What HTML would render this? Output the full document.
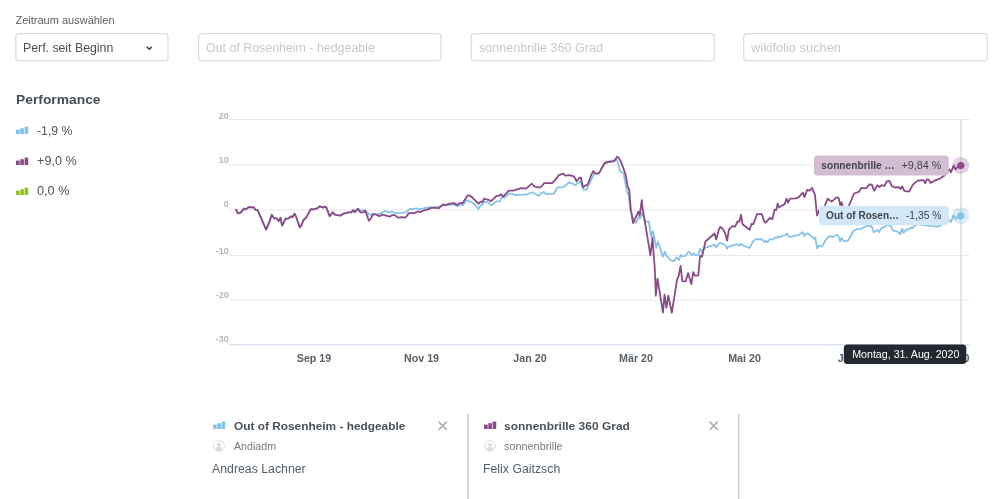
<!DOCTYPE html>
<html lang="de"><head><meta charset="utf-8"><title>wikifolio Vergleich</title>
<style>
html,body{margin:0;padding:0;background:#fff;}
body{width:999px;height:499px;position:relative;overflow:hidden;font-family:"Liberation Sans",sans-serif;color:#4d565e;}
.t{position:absolute;white-space:nowrap;line-height:1;margin:0;transform-origin:0 0;}
.ico{position:absolute;display:block;}
.ph{color:#c6c9cb;font-size:12.3px;}
svg text.yl{font:bold 9px "Liberation Sans",sans-serif;fill:#adb8bf;}
svg text.xl{font:bold 10.7px "Liberation Sans",sans-serif;fill:#596168;}
svg text.lb{font:bold 10.6px "Liberation Sans",sans-serif;fill:#3f464c;}
svg text.lv{font:11px "Liberation Sans",sans-serif;fill:#3f464c;}
svg text.tt{font:11px "Liberation Sans",sans-serif;fill:#fff;}
</style></head><body>

<div class="t" id="zeit" style="left:15.5px;top:14.8px;font-size:11px;color:#5a5f63;">Zeitraum auswählen</div>
<div class="t" id="perf" style="left:23px;top:42.4px;font-size:12.3px;color:#4a4f54;">Perf. seit Beginn</div>

<div class="t ph" id="ph1" style="left:205.9px;top:42.4px;transform:scaleX(1.008)">Out of Rosenheim - hedgeable</div>
<div class="t ph" id="ph2" style="left:479px;top:42.4px;transform:scaleX(1.025)">sonnenbrille 360 Grad</div>
<div class="t ph" id="ph3" style="left:751.3px;top:42.4px;transform:scaleX(1.045)">wikifolio suchen</div>

<div class="t" id="perfh" style="left:15.5px;top:93.4px;font-size:13.7px;font-weight:bold;color:#454d55;transform:scaleX(1.01)">Performance</div>
<svg class="ico" style="left:16px;top:126.2px" width="13" height="8" viewBox="0 0 13 8"><rect x="0" y="3.6" width="3.7" height="4.4" fill="#85c1e9"/><rect x="4.3" y="2.2" width="3.6" height="5.8" fill="#85c1e9"/><rect x="8.6" y="0.6" width="3.6" height="7.4" fill="#85c1e9"/></svg>
<div class="t" id="v1" style="left:37px;top:124.6px;font-size:12.3px;">-1,9 %</div>
<svg class="ico" style="left:16px;top:156.5px" width="13" height="8" viewBox="0 0 13 8"><rect x="0" y="3.6" width="3.7" height="4.4" fill="#8a4a86"/><rect x="4.3" y="2.2" width="3.6" height="5.8" fill="#8a4a86"/><rect x="8.6" y="0.6" width="3.6" height="7.4" fill="#8a4a86"/></svg>
<div class="t" id="v2" style="left:37px;top:154.9px;font-size:12.3px;transform:scaleX(1.03)">+9,0 %</div>
<svg class="ico" style="left:16px;top:186.5px" width="13" height="8" viewBox="0 0 13 8"><rect x="0" y="3.6" width="3.7" height="4.4" fill="#95c11f"/><rect x="4.3" y="2.2" width="3.6" height="5.8" fill="#95c11f"/><rect x="8.6" y="0.6" width="3.6" height="7.4" fill="#95c11f"/></svg>
<div class="t" id="v3" style="left:37px;top:184.9px;font-size:12.3px;transform:scaleX(1.035)">0,0 %</div>

<svg class="ico" style="left:0;top:0" width="999" height="499" viewBox="0 0 999 499">
<g fill="none" stroke="#d7dde0" stroke-width="1.25">
<rect x="15.9" y="33.5" width="152.1" height="27.4" rx="3.2"/>
<rect x="198.6" y="33.5" width="242.45" height="27.4" rx="3.2"/>
<rect x="471.3" y="33.5" width="243" height="27.4" rx="3.2"/>
<rect x="743.7" y="33.5" width="243.6" height="27.4" rx="3.2"/>
</g>
<rect x="467.2" y="414.1" width="1.6" height="85" fill="#c9cfd3"/>
<rect x="737.8" y="414.1" width="1.6" height="85" fill="#c9cfd3"/>
<path d="M146.8 46.9 L149.3 49.3 L151.8 46.9" stroke="#3f454b" stroke-width="1.5" fill="none"/>
<line x1="229" x2="969.5" y1="119.5" y2="119.5" stroke="#e6e6e6" stroke-width="1"/>
<line x1="229" x2="969.5" y1="165.0" y2="165.0" stroke="#e6e6e6" stroke-width="1"/>
<line x1="229" x2="969.5" y1="210.0" y2="210.0" stroke="#e6e6e6" stroke-width="1"/>
<line x1="229" x2="969.5" y1="255.4" y2="255.4" stroke="#e6e6e6" stroke-width="1"/>
<line x1="229" x2="969.5" y1="300.0" y2="300.0" stroke="#e6e6e6" stroke-width="1"/>
<line x1="229" x2="969.5" y1="344.8" y2="344.8" stroke="#ccd6eb" stroke-width="1"/>
<text x="228.8" y="118.8" class="yl" text-anchor="end">20</text>
<text x="228.8" y="162.6" class="yl" text-anchor="end">10</text>
<text x="228.8" y="207.4" class="yl" text-anchor="end">0</text>
<text x="228.8" y="253.5" class="yl" text-anchor="end">-10</text>
<text x="228.8" y="298.4" class="yl" text-anchor="end">-20</text>
<text x="228.8" y="342.4" class="yl" text-anchor="end">-30</text>
<text x="314" y="361.9" class="xl" text-anchor="middle">Sep 19</text>
<text x="421.5" y="361.9" class="xl" text-anchor="middle">Nov 19</text>
<text x="530" y="361.9" class="xl" text-anchor="middle">Jan 20</text>
<text x="636" y="361.9" class="xl" text-anchor="middle">Mär 20</text>
<text x="744.5" y="361.9" class="xl" text-anchor="middle">Mai 20</text>
<text x="853" y="361.9" class="xl" text-anchor="middle">Jul 20</text>
<text x="969.5" y="361.9" class="xl" text-anchor="end">Sep 20</text>

<line x1="961" x2="961" y1="119.5" y2="344.5" stroke="#dedede" stroke-width="1.5"/>
<path transform="translate(0,0.6)" d="M236.0 209.1 L238.0 212.7 L240.6 212.1 L244.0 208.1 L246.0 208.7 L248.6 206.5 L254.0 206.9 L255.5 209.3 L257.5 209.3 L266.1 229.1 L269.5 221.1 L271.7 214.1 L274.1 217.7 L276.7 217.7 L278.7 220.5 L280.5 217.1 L282.1 225.1 L285.7 218.1 L288.7 217.7 L291.1 215.7 L292.7 216.5 L294.5 213.1 L296.1 216.1 L299.7 226.7 L301.2 225.1 L303.8 219.1 L306.2 217.1 L310.8 208.5 L313.2 208.7 L317.2 207.7 L319.6 205.7 L323.2 207.1 L324.4 206.1 L326.2 206.5 L329.6 215.7 L332.8 211.7 L334.8 214.1 L337.2 214.5 L340.2 215.1 L343.6 212.9 L346.2 212.5 L348.2 211.7 L351.3 211.7 L353.3 209.5 L354.7 211.7 L357.9 208.1 L360.3 209.5 L365.3 209.7 L369.3 214.1 L377.3 213.6 L381.3 212.6 L384.3 210.6 L387.3 211.0 L390.3 212.0 L391.7 211.0 L395.3 212.4 L401.4 212.4 L406.4 211.6 L409.4 208.5 L414.4 208.1 L418.4 208.1 L420.0 208.5 L428.0 206.7 L432.0 207.1 L439.0 206.1 L443.0 205.1 L450.0 204.1 L454.0 204.1 L457.5 205.7 L459.5 204.5 L462.7 204.5 L467.1 199.5 L474.1 203.1 L478.5 208.5 L480.5 204.5 L482.1 204.5 L484.1 201.1 L488.1 201.7 L491.7 204.7 L496.2 200.7 L499.8 200.7 L501.8 196.7 L504.2 197.1 L509.2 193.1 L512.2 193.1 L514.8 194.5 L527.2 193.7 L532.2 191.7 L538.6 195.1 L541.2 192.5 L543.8 191.5 L545.9 193.5 L553.9 193.1 L557.3 187.1 L563.3 186.5 L569.3 181.7 L575.3 184.5 L580.3 180.5 L583.3 189.1 L586.7 188.7 L589.3 183.1 L594.3 173.1 L599.0 173.1 L602.4 166.1 L606.4 161.0 L614.4 159.6 L616.6 157.5 L620.0 170.4 L623.7 172.9 L626.9 191.3 L628.5 193.7 L630.4 209.6 L633.6 219.2 L636.0 222.4 L638.4 216.8 L640.0 217.9 L642.0 212.0 L643.7 216.8 L645.6 221.2 L648.8 220.8 L650.9 236.1 L652.5 230.4 L654.1 235.3 L656.1 247.3 L658.0 240.9 L662.9 256.1 L664.9 251.0 L666.5 255.3 L671.3 260.1 L673.7 260.6 L676.4 256.9 L679.0 259.3 L680.6 254.5 L682.5 255.6 L685.7 255.3 L688.1 251.3 L689.7 251.6 L691.6 254.8 L693.2 252.6 L695.3 254.5 L698.2 254.2 L700.1 248.1 L701.7 251.3 L704.9 247.3 L714.6 244.1 L716.2 246.8 L718.9 243.0 L721.0 242.5 L725.0 244.1 L727.1 248.1 L729.0 245.7 L737.8 243.6 L739.4 245.4 L741.0 243.0 L742.6 244.9 L749.5 247.3 L753.0 240.9 L755.4 238.8 L761.8 238.5 L764.2 241.4 L765.8 240.1 L767.4 241.7 L769.8 238.5 L772.6 239.0 L775.2 236.9 L776.8 237.3 L778.1 235.4 L779.4 236.9 L782.4 235.1 L785.6 234.7 L786.9 232.8 L789.3 236.4 L791.5 236.0 L796.0 234.7 L798.4 234.7 L802.6 231.5 L804.5 235.4 L806.8 232.8 L809.1 233.8 L811.7 235.6 L814.3 238.6 L815.3 236.9 L817.1 247.7 L818.8 245.1 L820.8 245.5 L822.7 245.1 L826.0 238.6 L829.6 235.6 L832.5 236.4 L837.1 234.1 L838.4 235.4 L840.3 240.8 L841.6 237.3 L843.6 240.3 L845.5 240.8 L848.1 239.9 L853.3 230.4 L856.6 228.6 L861.1 228.2 L867.0 225.2 L871.6 225.6 L873.8 231.7 L877.4 229.5 L879.1 231.5 L881.3 227.6 L884.6 226.3 L887.0 224.3 L891.0 225.6 L892.8 229.9 L897.0 230.8 L900.4 233.5 L902.1 228.0 L903.6 232.3 L906.0 229.3 L910.3 228.0 L911.5 226.5 L912.7 227.5 L914.5 225.0 L918.0 223.5 L921.0 224.2 L924.7 224.9 L929.5 225.2 L931.9 225.6 L937.9 226.0 L940.3 225.0 L944.0 222.0 L948.7 219.0 L950.9 221.4 L953.5 214.5 L955.3 218.4 L956.9 216.8 L960.7 216.0" fill="none" stroke="#85c1e9" stroke-width="1.75" stroke-linejoin="round" stroke-linecap="round"/>
<path transform="translate(0,0.6)" d="M236.0 209.1 L238.0 212.7 L240.6 212.1 L244.0 208.1 L246.0 208.7 L248.6 206.5 L254.0 206.9 L255.5 209.3 L257.5 209.3 L266.1 229.1 L269.5 221.1 L271.7 214.1 L274.1 217.7 L276.7 217.7 L278.7 220.5 L280.5 217.1 L282.1 225.1 L285.7 218.1 L288.7 217.7 L291.1 215.7 L292.7 216.5 L294.5 213.1 L296.1 216.1 L299.7 226.7 L301.2 225.1 L303.8 219.1 L306.2 217.1 L310.8 208.5 L313.2 208.7 L317.2 207.7 L319.6 205.7 L323.2 207.1 L324.4 206.1 L326.2 206.5 L329.6 215.7 L332.8 211.7 L334.8 214.1 L337.2 214.5 L340.2 215.1 L343.6 212.9 L346.2 212.5 L348.2 211.7 L351.3 211.7 L353.3 209.5 L354.7 211.7 L357.9 208.1 L360.3 211.7 L363.3 211.7 L365.3 210.1 L368.9 220.1 L370.9 218.1 L372.9 213.5 L376.3 214.1 L379.3 215.5 L382.3 214.1 L385.3 214.7 L389.7 216.1 L392.3 214.5 L394.9 214.5 L397.7 217.1 L402.4 216.5 L405.4 217.1 L409.0 212.5 L414.4 212.5 L418.4 210.7 L420.4 211.5 L423.0 210.1 L427.0 209.1 L432.0 207.1 L439.0 207.5 L443.0 203.7 L445.0 204.5 L450.0 203.1 L454.0 202.5 L457.5 204.5 L459.5 202.5 L462.7 202.5 L467.7 194.7 L470.1 195.1 L473.1 197.7 L478.5 203.1 L480.5 201.1 L482.1 201.7 L484.1 198.1 L489.1 199.5 L491.1 200.5 L496.2 195.5 L499.2 195.1 L500.8 193.7 L503.2 196.1 L508.8 190.1 L513.2 190.1 L521.2 187.5 L526.2 188.1 L531.8 183.1 L534.2 185.7 L539.2 187.1 L541.8 185.7 L544.2 182.5 L552.3 182.5 L556.3 178.1 L558.7 174.5 L563.3 173.1 L565.3 175.1 L569.3 174.5 L573.9 175.7 L576.7 180.7 L579.3 177.1 L580.9 177.1 L582.9 186.5 L587.9 183.7 L591.3 174.1 L593.3 170.5 L595.4 173.1 L599.0 172.5 L604.6 162.4 L608.5 161.5 L614.5 160.6 L616.8 156.2 L618.9 157.3 L620.8 160.8 L625.6 173.7 L627.7 186.5 L629.2 188.9 L630.4 204.1 L630.9 209.6 L633.1 222.4 L638.4 211.0 L639.6 215.2 L641.8 199.6 L642.4 206.4 L645.6 225.6 L650.4 254.5 L652.5 236.9 L653.7 254.5 L654.8 268.0 L655.8 295.1 L657.5 278.0 L663.0 312.1 L664.5 294.1 L666.4 307.1 L668.3 295.1 L671.8 312.1 L677.1 279.0 L678.6 275.5 L680.6 265.4 L682.3 280.5 L685.6 280.8 L688.1 272.5 L691.3 283.5 L693.3 271.5 L694.9 275.0 L698.3 274.8 L700.1 255.3 L702.1 256.1 L705.4 240.9 L714.6 232.9 L716.2 238.8 L718.9 228.8 L720.2 226.4 L722.6 228.0 L725.0 232.1 L727.1 240.1 L729.0 228.8 L732.5 225.6 L735.1 226.0 L737.5 220.8 L739.4 221.2 L741.0 214.1 L742.6 223.7 L749.5 229.2 L751.7 223.2 L753.3 223.7 L757.0 213.6 L761.8 213.6 L764.2 220.8 L765.8 222.1 L769.8 217.3 L772.4 218.5 L774.5 209.3 L776.1 209.6 L777.7 202.9 L779.1 206.9 L781.2 205.3 L784.7 203.7 L786.5 198.1 L788.1 202.1 L790.0 198.1 L795.6 197.8 L798.8 196.5 L802.9 192.0 L804.5 196.5 L807.2 189.3 L809.7 190.1 L812.0 187.2 L814.9 194.1 L817.0 214.9 L819.5 209.0 L824.5 206.1 L827.7 198.1 L831.7 201.0 L836.5 196.8 L838.6 197.3 L840.5 205.3 L841.6 201.6 L842.9 206.1 L844.5 208.5 L848.5 206.1 L854.1 192.9 L858.9 191.3 L861.3 187.2 L866.2 187.7 L869.4 183.7 L871.8 184.0 L874.2 190.1 L877.4 184.5 L879.5 186.5 L881.4 184.5 L884.6 185.2 L886.7 180.8 L889.5 180.2 L891.9 185.6 L895.0 186.9 L899.2 186.6 L900.5 188.4 L902.1 185.9 L904.3 190.3 L909.2 191.0 L912.6 184.5 L916.0 181.2 L918.5 179.9 L923.5 179.5 L925.2 182.5 L926.8 178.7 L928.7 179.1 L930.5 182.3 L935.3 179.7 L940.1 177.9 L943.7 175.5 L948.5 170.0 L949.5 168.8 L950.9 171.9 L953.6 165.0 L955.5 168.8 L956.9 167.0 L960.8 165.8" fill="none" stroke="#8a4a86" stroke-width="1.8" stroke-linejoin="round" stroke-linecap="round"/>
<circle cx="960.8" cy="165.5" r="8.5" fill="#8a4a86" fill-opacity="0.25"/>
<circle cx="960.8" cy="165.5" r="3.6" fill="#8a4a86"/>
<circle cx="960.8" cy="215.8" r="8.5" fill="#85c1e9" fill-opacity="0.3"/>
<circle cx="960.8" cy="215.8" r="3.6" fill="#85c1e9"/>
<rect x="814" y="155.6" width="134.8" height="19.8" rx="3.5" fill="#d3bdd2"/>
<text x="821.3" y="169.3" class="lb" textLength="73.4" lengthAdjust="spacingAndGlyphs">sonnenbrille …</text>
<text x="901.4" y="169.4" class="lv" textLength="40.1" lengthAdjust="spacingAndGlyphs">+9,84 %</text>
<rect x="819" y="205.8" width="129.8" height="19.4" rx="3.5" fill="#d3e8f6"/>
<text x="826.1" y="219" class="lb" textLength="73" lengthAdjust="spacingAndGlyphs">Out of Rosen…</text>
<text x="905.9" y="219" class="lv" textLength="35.6" lengthAdjust="spacingAndGlyphs">-1,35 %</text>
<rect x="843.8" y="344.6" width="122.5" height="19.5" rx="3.5" fill="#23292e"/>
<text x="852.2" y="358.2" class="tt" textLength="107.2" lengthAdjust="spacingAndGlyphs">Montag, 31. Aug. 2020</text>
</svg>

<svg class="ico" style="left:213px;top:421px" width="13" height="8" viewBox="0 0 13 8"><rect x="0" y="3.6" width="3.7" height="4.4" fill="#85c1e9"/><rect x="4.3" y="2.2" width="3.6" height="5.8" fill="#85c1e9"/><rect x="8.6" y="0.6" width="3.6" height="7.4" fill="#85c1e9"/></svg>
<div class="t" id="c1t" style="left:233.5px;top:420.2px;font-size:11.6px;font-weight:bold;color:#4a525a;transform:scaleX(1.023)">Out of Rosenheim - hedgeable</div>
<svg class="ico" style="left:438px;top:420.6px" width="10" height="10" viewBox="0 0 10 10"><path d="M0.6 0.6 L8.8 8.9 M8.8 0.6 L0.6 8.9" stroke="#aab1b5" stroke-width="1.6" fill="none"/></svg>
<svg class="ico" style="left:212.8px;top:440.3px" width="12" height="12" viewBox="0 0 12 12"><circle cx="6" cy="6" r="5.4" fill="#fff" stroke="#d8dcde" stroke-width="0.9"/><circle cx="6" cy="4.7" r="1.9" fill="#d8dcde"/><path d="M2.6 9.6 C2.9 7.6 4.4 7.1 6 7.1 C7.6 7.1 9.1 7.6 9.4 9.6 C8.4 10.6 7.2 11 6 11 C4.8 11 3.6 10.6 2.6 9.6Z" fill="#d8dcde"/></svg>
<div class="t" id="c1u" style="left:233.5px;top:441.5px;font-size:10.4px;color:#777c80;transform:scaleX(1.025)">Andiadm</div>
<div class="t" id="c1n" style="left:212px;top:463px;font-size:12.3px;color:#545d65;">Andreas Lachner</div>

<svg class="ico" style="left:483.9px;top:421px" width="13" height="8" viewBox="0 0 13 8"><rect x="0" y="3.6" width="3.7" height="4.4" fill="#8a4a86"/><rect x="4.3" y="2.2" width="3.6" height="5.8" fill="#8a4a86"/><rect x="8.6" y="0.6" width="3.6" height="7.4" fill="#8a4a86"/></svg>
<div class="t" id="c2t" style="left:504.3px;top:420.2px;font-size:11.6px;font-weight:bold;color:#4a525a;transform:scaleX(1.034)">sonnenbrille 360 Grad</div>
<svg class="ico" style="left:708.8px;top:420.6px" width="10" height="10" viewBox="0 0 10 10"><path d="M0.6 0.6 L8.8 8.9 M8.8 0.6 L0.6 8.9" stroke="#aab1b5" stroke-width="1.6" fill="none"/></svg>
<svg class="ico" style="left:483.9px;top:440.4px" width="12" height="12" viewBox="0 0 12 12"><circle cx="6" cy="6" r="5.4" fill="#fff" stroke="#d8dcde" stroke-width="0.9"/><circle cx="6" cy="4.7" r="1.9" fill="#d8dcde"/><path d="M2.6 9.6 C2.9 7.6 4.4 7.1 6 7.1 C7.6 7.1 9.1 7.6 9.4 9.6 C8.4 10.6 7.2 11 6 11 C4.8 11 3.6 10.6 2.6 9.6Z" fill="#d8dcde"/></svg>
<div class="t" id="c2u" style="left:504.3px;top:441.5px;font-size:10.4px;color:#777c80;transform:scaleX(1.046)">sonnenbrille</div>
<div class="t" id="c2n" style="left:483px;top:463px;font-size:12.3px;color:#545d65;">Felix Gaitzsch</div>

</body></html>
